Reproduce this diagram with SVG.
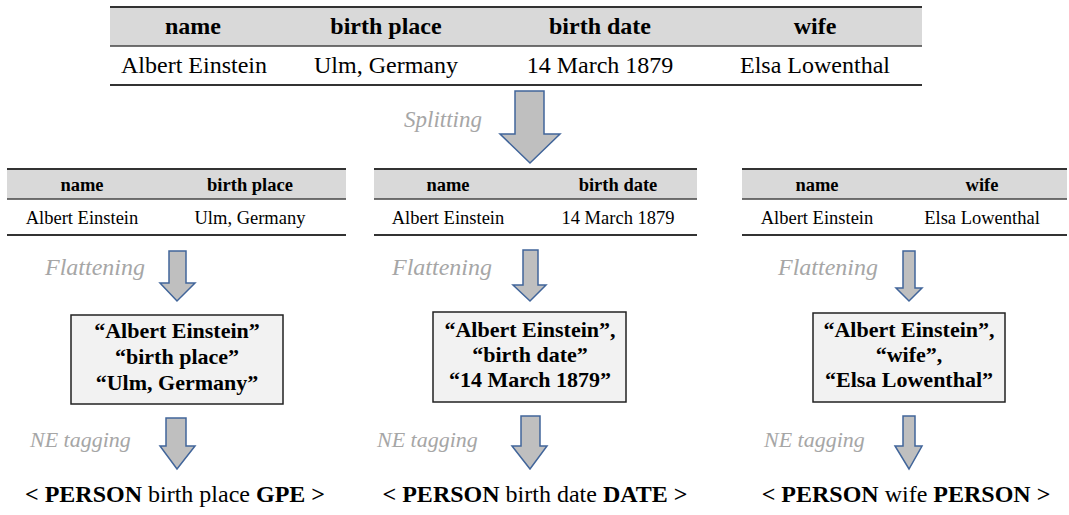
<svg xmlns="http://www.w3.org/2000/svg" width="1069" height="515" viewBox="0 0 1069 515">
<style>
text{font-family:'Liberation Serif','Times New Roman',serif;fill:#000;text-anchor:middle}
.h1{font-weight:bold;font-size:24px}
.r1{font-size:24px}
.h2{font-weight:bold;font-size:18.5px}
.r2{font-size:18.5px}
.lbl{font-style:italic;fill:#a6a6a6;font-size:23px;text-anchor:start}
.fl{font-size:24px}
.ne{font-size:22px}
.bx{font-weight:bold;font-size:22px}
.out{font-size:24px}
.b{font-weight:bold}
.hdr{fill:#d9d9d9}
.ln{stroke:#333;stroke-width:2}
.ln2{stroke:#444;stroke-width:1.5}
.arr{fill:#bfbfbf;stroke:#41659a;stroke-width:1.5;stroke-linejoin:miter}
.box{fill:#f2f2f2;stroke:#222;stroke-width:1.5}
</style>
<g id="table-full">
<rect class="hdr" x="110" y="7" width="812" height="39"/>
<line class="ln" x1="110" y1="7" x2="922" y2="7"/>
<line class="ln2" x1="110" y1="46" x2="922" y2="46"/>
<line class="ln" x1="110" y1="85" x2="922" y2="85"/>
<text class="h1" x="193" y="34">name</text>
<text class="h1" x="386" y="34">birth place</text>
<text class="h1" x="600" y="34">birth date</text>
<text class="h1" x="815" y="34">wife</text>
<text class="r1" x="194" y="73">Albert Einstein</text>
<text class="r1" x="386" y="73">Ulm, Germany</text>
<text class="r1" x="600" y="73">14 March 1879</text>
<text class="r1" x="815" y="73">Elsa Lowenthal</text>
</g>
<g id="table-place">
<rect class="hdr" x="7" y="169" width="339" height="30"/>
<line class="ln" x1="7" y1="169" x2="346" y2="169"/>
<line class="ln2" x1="7" y1="199" x2="346" y2="199"/>
<line class="ln" x1="7" y1="235" x2="346" y2="235"/>
<text class="h2" x="82" y="191">name</text>
<text class="h2" x="250" y="191">birth place</text>
<text class="r2" x="82" y="224">Albert Einstein</text>
<text class="r2" x="250" y="224">Ulm, Germany</text>
</g>
<g id="table-date">
<rect class="hdr" x="374" y="169" width="323" height="30"/>
<line class="ln" x1="374" y1="169" x2="697" y2="169"/>
<line class="ln2" x1="374" y1="199" x2="697" y2="199"/>
<line class="ln" x1="374" y1="235" x2="697" y2="235"/>
<text class="h2" x="448" y="191">name</text>
<text class="h2" x="618" y="191">birth date</text>
<text class="r2" x="448" y="224">Albert Einstein</text>
<text class="r2" x="618" y="224">14 March 1879</text>
</g>
<g id="table-wife">
<rect class="hdr" x="742" y="169" width="325" height="30"/>
<line class="ln" x1="742" y1="169" x2="1067" y2="169"/>
<line class="ln2" x1="742" y1="199" x2="1067" y2="199"/>
<line class="ln" x1="742" y1="235" x2="1067" y2="235"/>
<text class="h2" x="817" y="191">name</text>
<text class="h2" x="982" y="191">wife</text>
<text class="r2" x="817" y="224">Albert Einstein</text>
<text class="r2" x="982" y="224">Elsa Lowenthal</text>
</g>
<g id="box-place">
<rect class="box" x="71" y="315" width="212" height="89"/>
<text class="bx" x="177" y="338">“Albert Einstein”</text>
<text class="bx" x="177" y="364">“birth place”</text>
<text class="bx" x="177" y="390">“Ulm, Germany”</text>
</g>
<g id="box-date">
<rect class="box" x="433" y="312" width="193" height="90"/>
<text class="bx" x="530" y="337">“Albert Einstein”,</text>
<text class="bx" x="530" y="362">“birth date”</text>
<text class="bx" x="530" y="387">“14 March 1879”</text>
</g>
<g id="box-wife">
<rect class="box" x="813" y="313" width="192" height="89"/>
<text class="bx" x="909" y="337">“Albert Einstein”,</text>
<text class="bx" x="909" y="362">“wife”,</text>
<text class="bx" x="909" y="387">“Elsa Lowenthal”</text>
</g>
<g id="out-place">
<text class="out" x="175" y="502"><tspan class="b">&lt; PERSON</tspan> birth place <tspan class="b">GPE &gt;</tspan></text>
</g>
<g id="out-date">
<text class="out" x="535" y="502"><tspan class="b">&lt; PERSON</tspan> birth date <tspan class="b">DATE &gt;</tspan></text>
</g>
<g id="out-wife">
<text class="out" x="906" y="502"><tspan class="b">&lt; PERSON</tspan> wife <tspan class="b">PERSON &gt;</tspan></text>
</g>
<g id="connectors">
<polygon class="arr" points="515,91 544,91 544,134 560,134 530,163 500,134 515,134"/>
<text class="lbl" x="404" y="127">Splitting</text>
<polygon class="arr" points="169,251 186,251 186,283 195,283 177,301 160,283 169,283"/>
<text class="lbl fl" x="45" y="275">Flattening</text>
<polygon class="arr" points="523,250 538,250 538,285 546,285 530,301 513,285 523,285"/>
<text class="lbl fl" x="392" y="275">Flattening</text>
<polygon class="arr" points="903,251 915,251 915,288 922,288 909,301 896,288 903,288"/>
<text class="lbl fl" x="778" y="275">Flattening</text>
<polygon class="arr" points="166,418 186,418 186,446 195,446 177,469 160,446 166,446"/>
<text class="lbl ne" x="30" y="447">NE tagging</text>
<polygon class="arr" points="521,416 540,416 540,446 547,446 530,469 512,446 521,446"/>
<text class="lbl ne" x="377" y="447">NE tagging</text>
<polygon class="arr" points="903,416 915,416 915,446 922,446 909,469 895,446 903,446"/>
<text class="lbl ne" x="764" y="447">NE tagging</text>
</g>
</svg>
